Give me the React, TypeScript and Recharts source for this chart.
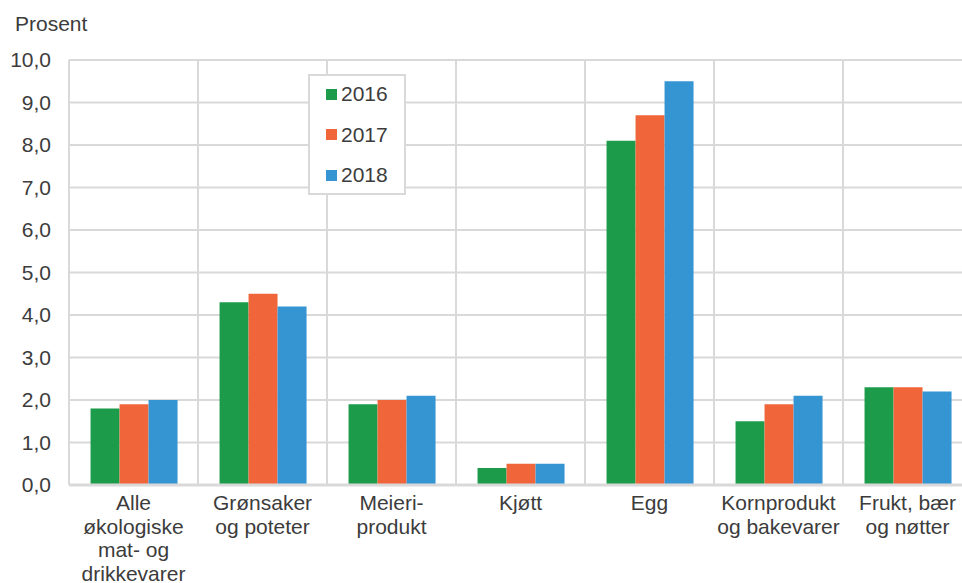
import React from "react";
import { BarChart, Bar, XAxis, YAxis, CartesianGrid, Legend } from "recharts";

const categories = [
  "Alle\nøkologiske\nmat- og\ndrikkevarer",
  "Grønsaker\nog poteter",
  "Meieri-\nprodukt",
  "Kjøtt",
  "Egg",
  "Kornprodukt\nog bakevarer",
  "Frukt, bær\nog nøtter",
];
const values2016 = [1.8, 4.3, 1.9, 0.4, 8.1, 1.5, 2.3];
const values2017 = [1.9, 4.5, 2.0, 0.5, 8.7, 1.9, 2.3];
const values2018 = [2.0, 4.2, 2.1, 0.5, 9.5, 2.1, 2.2];
const yTicks = [0, 1, 2, 3, 4, 5, 6, 7, 8, 9, 10];

const series = [
  { key: "y2016", name: "2016", color: "#1c9b4a" },
  { key: "y2017", name: "2017", color: "#f0663a" },
  { key: "y2018", name: "2018", color: "#3595d3" },
];

const data = categories.map((name, i) => ({
  name,
  y2016: values2016[i],
  y2017: values2017[i],
  y2018: values2018[i],
}));

const FONT = "'Liberation Sans', Arial, sans-serif";
const TEXT = "#3c3c3c";
const GRID = "#d9d9d9";

function CategoryTick({ x, y, payload }: any) {
  const lines = String(payload.value).split("\n");
  return (
    <text x={x} y={y} textAnchor="middle" fill={TEXT} fontSize={21} fontFamily={FONT}>
      {lines.map((l, i) => (
        <tspan key={i} x={x} dy={i === 0 ? 19 : 23.5}>
          {l}
        </tspan>
      ))}
    </text>
  );
}

function LegendBox() {
  return (
    <div
      style={{
        width: 98,
        height: 121,
        boxSizing: "border-box",
        border: `2px solid ${GRID}`,
        background: "#fff",
        fontFamily: FONT,
        fontSize: 21,
        color: TEXT,
      }}
    >
      <div style={{ position: "relative", top: -2 }}>
        {series.map((s) => (
          <div key={s.key} style={{ height: 40.5, display: "flex", alignItems: "center", paddingLeft: 16 }}>
            <span style={{ width: 11, height: 11, background: s.color, display: "inline-block", marginRight: 4 }} />
            <span>{s.name}</span>
          </div>
        ))}
      </div>
    </div>
  );
}

export default function App() {
  return (
    <div style={{ position: "absolute", left: 0, top: 0, width: 962, height: 583, overflow: "hidden", background: "#fff" }}>
      <div style={{ position: "absolute", left: 15, top: 12, fontFamily: FONT, fontSize: 21, color: TEXT }}>Prosent</div>
      <BarChart
        width={980}
        height={583}
        data={data}
        margin={{ top: 60, right: 8, bottom: 0, left: 0 }}
        barCategoryGap="16.7%"
        barGap={0}
      >
        <CartesianGrid
          stroke={GRID}
          strokeWidth={2}
          verticalCoordinatesGenerator={({ offset }: any) =>
            categories.map((_, i) => offset.left + (i * offset.width) / categories.length).concat([offset.left + offset.width])
          }
        />
        <XAxis
          dataKey="name"
          interval={0}
          height={98}
          tickLine={false}
          axisLine={{ stroke: GRID, strokeWidth: 3 }}
          tickMargin={0}
          tick={<CategoryTick />}
        />
        <YAxis
          width={69}
          domain={[0, 10]}
          ticks={yTicks}
          interval={0}
          axisLine={false}
          tickLine={false}
          tickMargin={12}
          tickFormatter={(v: number) => v.toFixed(1).replace(".", ",")}
          tick={{ fill: TEXT, fontSize: 21, fontFamily: FONT }}
        />
        <Legend
          content={() => <LegendBox />}
          wrapperStyle={{ left: 308, top: 74, width: 98 }}
          layout="vertical"
          verticalAlign="middle"
          align="center"
        />
        {series.map((s) => (
          <Bar key={s.key} dataKey={s.key} name={s.name} fill={s.color} isAnimationActive={false} />
        ))}
      </BarChart>
    </div>
  );
}
